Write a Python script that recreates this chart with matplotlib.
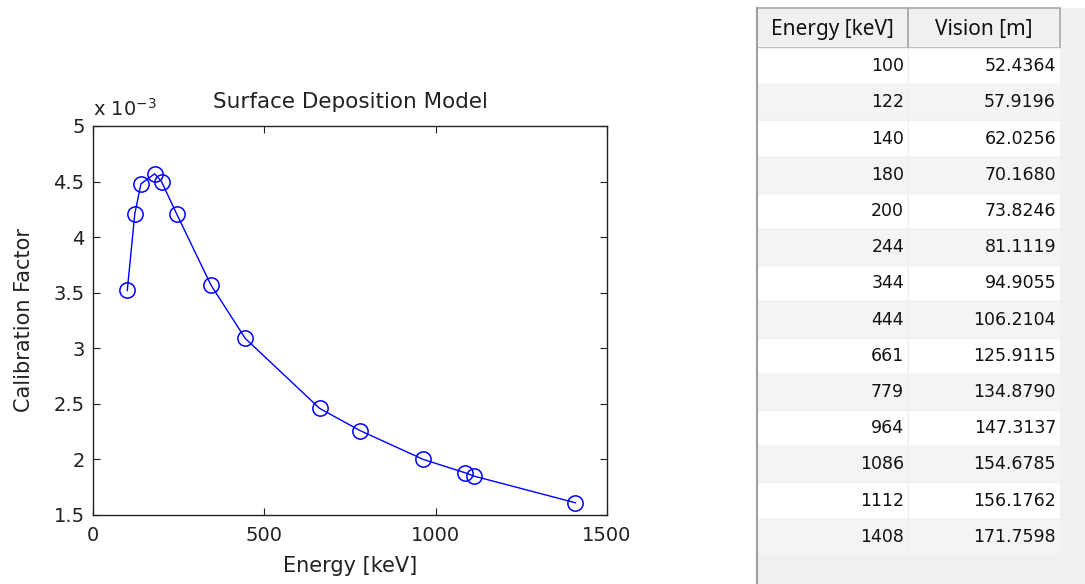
import matplotlib.pyplot as plt
from matplotlib.patches import Rectangle
from matplotlib.ticker import FuncFormatter, MultipleLocator

# data
energy = [100, 122, 140, 180, 200, 244, 344, 444, 661, 779, 964, 1086, 1112, 1408]
calib = [3.52e-3, 4.21e-3, 4.48e-3, 4.57e-3, 4.50e-3, 4.21e-3, 3.57e-3,
         3.09e-3, 2.46e-3, 2.26e-3, 2.00e-3, 1.88e-3, 1.85e-3, 1.61e-3]
vision = ['52.4364', '57.9196', '62.0256', '70.1680', '73.8246', '81.1119', '94.9055',
          '106.2104', '125.9115', '134.8790', '147.3137', '154.6785', '156.1762', '171.7598']
headers = ['Energy [keV]', 'Vision [m]']

W, H = 1085, 584
fig = plt.figure(figsize=(W / 100, H / 100), dpi=100)
plt.rcParams['font.family'] = 'DejaVu Sans'


def px_axes(x0, y0, x1, y1):
    return fig.add_axes([x0 / W, 1 - y1 / H, (x1 - x0) / W, (y1 - y0) / H])


# plot
ax = px_axes(93, 126, 607, 515)
ax.plot(energy, calib, '-o', color='blue', lw=1.0, ms=11, mfc='none', mew=1.1)
ax.set_xlim(0, 1500)
ax.set_ylim(1.5e-3, 5e-3)
ax.xaxis.set_major_locator(MultipleLocator(500))
ax.yaxis.set_major_locator(MultipleLocator(0.5e-3))
ax.yaxis.set_major_formatter(FuncFormatter(lambda v, p: '%g' % round(v * 1e3, 3)))
ax.tick_params(direction='in', top=True, right=True, length=5, width=0.8,
               labelsize=14, colors='#222222')
ax.tick_params(axis='x', pad=8)
ax.tick_params(axis='y', pad=6)
for s in ax.spines.values():
    s.set_linewidth(1.0)
    s.set_color('#222222')
ax.set_title('Surface Deposition Model', fontsize=15.5, pad=13, color='#222222')
ax.set_xlabel('Energy [keV]', fontsize=15, labelpad=8, color='#222222')
ax.set_ylabel('Calibration Factor', fontsize=15, labelpad=14, color='#222222')
ax.text(0, 1.015, r'x 10$^{-3}$', transform=ax.transAxes, fontsize=14,
        va='bottom', ha='left', color='#222222')

# table
tx = px_axes(750, 0, 1085, 584)
tx.set_xlim(750, 1085)
tx.set_ylim(584, 0)
tx.axis('off')

col_x = [757, 908, 1060]
head_top, head_bot = 8, 48
row_h = 36.2

tx.add_patch(Rectangle((757, head_top), 1085 - 757, H - head_top, fc='#f0f0f0', ec='none'))
tx.plot([757, 757], [head_top, H], color='#a0a0a0', lw=1.5)
for i, h in enumerate(headers):
    tx.add_patch(Rectangle((col_x[i], head_top), col_x[i + 1] - col_x[i], head_bot - head_top,
                           fc='#f0f0f0', ec='#a8a8a8', lw=1.2))
    tx.text((col_x[i] + col_x[i + 1]) / 2, (head_top + head_bot) / 2 + 1, h,
            ha='center', va='center', fontsize=15, family='Noto Sans', color='#111111')

for r in range(len(energy)):
    y0 = head_bot + r * row_h
    fc = 'white' if r % 2 == 0 else '#f4f4f4'
    for c in range(2):
        tx.add_patch(Rectangle((col_x[c], y0), col_x[c + 1] - col_x[c], row_h,
                               fc=fc, ec='#f0f0f0', lw=1))
    yc = y0 + row_h / 2
    tx.text(col_x[1] - 4, yc, str(energy[r]), ha='right', va='center', fontsize=12.5,
            color='#111111')
    tx.text(col_x[2] - 4, yc, vision[r], ha='right', va='center', fontsize=12.5,
            color='#111111')

fig.savefig('out.png', dpi=100)
